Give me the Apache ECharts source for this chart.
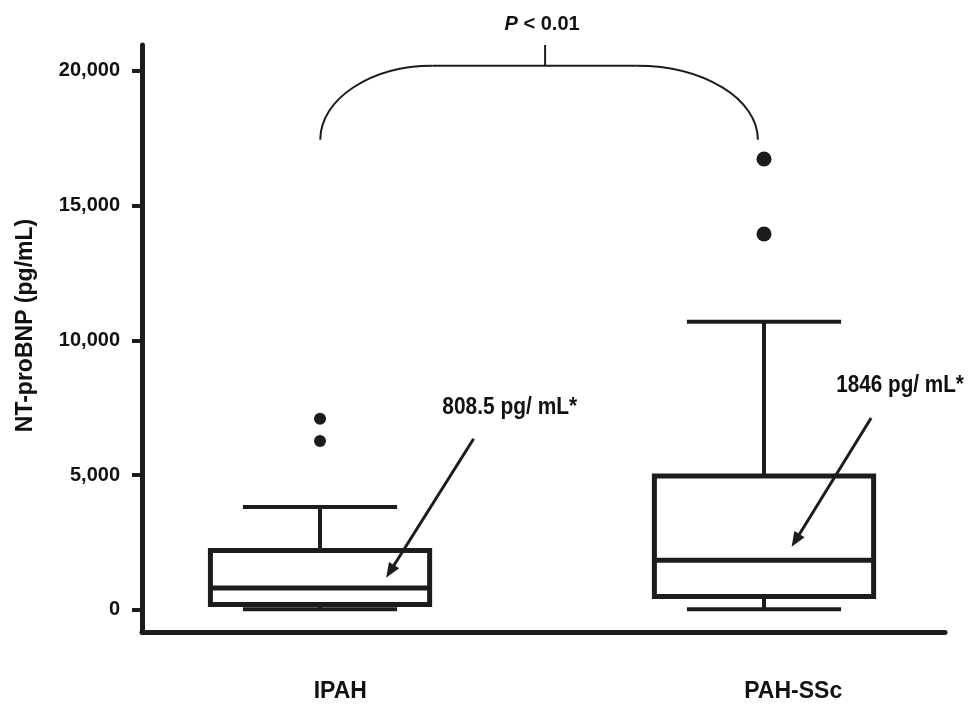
<!DOCTYPE html>
<html>
<head>
<meta charset="utf-8">
<script src="https://cdn.jsdelivr.net/npm/echarts@6/dist/echarts.min.js"></script>
<style>
html,body{margin:0;padding:0;background:#fff;}
#chart{width:974px;height:713px;}
</style>
</head>
<body>
<div id="chart"></div>
<script>
// ---- data ----
var categories = ['IPAH', 'PAH-SSc'];
var boxMin    = [20, 20];
var boxQ1     = [200, 500];
var boxMedian = [808.5, 1846];
var boxQ3     = [2200, 4970];
var boxMax    = [3820, 10690];
var outliersIPAH = [7090, 6270];
var outliersPAH  = [16730, 13950];
var yTicks = [0, 5000, 10000, 15000, 20000];
var medianLabels = ['808.5 pg/ mL*', '1846 pg/ mL*'];
var pText = 'P';
var pRest = ' < 0.01';
var yTitle = 'NT-proBNP (pg/mL)';

// ---- layout (x axis units 0..100) ----
var boxPos = [22.17, 77.46];
var labelPos = [24.7, 81.1];
var BOX_W = 27.3, CAP_W = 19.2;
var INK = '#1c1c1c';
var FONT = "'Liberation Sans', Arial, sans-serif";

var chart = echarts.init(document.getElementById('chart'));

var boxData = categories.map(function (c, i) {
  return [boxPos[i], boxMin[i], boxQ1[i], boxMedian[i], boxQ3[i], boxMax[i]];
});
var outData = outliersIPAH.map(function (v) { return {value: [boxPos[0], v], symbolSize: 12}; })
  .concat(outliersPAH.map(function (v) { return {value: [boxPos[1], v], symbolSize: 15}; }));

var option = {
  animation: false,
  backgroundColor: '#fff',
  grid: {left: 142, right: 29, top: 45, bottom: 81},
  xAxis: {
    type: 'value', min: 0, max: 100,
    splitLine: {show: false},
    axisTick: {show: false},
    axisLine: {show: true, onZero: false, lineStyle: {color: INK, width: 5}},
    axisLabel: {
      customValues: labelPos,
      margin: 48,
      fontFamily: FONT, fontWeight: 'bold', fontSize: 23, color: '#111',
      formatter: function (v) {
        var idx = labelPos.indexOf(v);
        return idx >= 0 ? categories[idx] : '';
      }
    }
  },
  yAxis: {
    type: 'value', min: -820, max: 20960,
    splitLine: {show: false},
    axisLine: {show: true, onZero: false, lineStyle: {color: INK, width: 5}},
    axisTick: {show: true, customValues: yTicks, length: 10, lineStyle: {color: INK, width: 4}},
    axisLabel: {
      customValues: yTicks, margin: 22,
      fontFamily: FONT, fontWeight: 'bold', fontSize: 20, color: '#111',
      formatter: function (v) { return String(v).replace(/\B(?=(\d{3})+(?!\d))/g, ','); }
    },
    name: yTitle,
    nameLocation: 'middle',
    nameGap: 105,
    nameTextStyle: {fontFamily: FONT, fontWeight: 'bold', fontSize: 23, color: '#111', padding: [0, 0, 0, 26]}
  },
  series: [
    {
      type: 'custom',
      data: boxData,
      encode: {x: 0, y: [1, 2, 3, 4, 5]},
      renderItem: function (params, api) {
        var x = api.value(0);
        var lo = api.coord([x, api.value(1)]);
        var q1 = api.coord([x, api.value(2)]);
        var md = api.coord([x, api.value(3)]);
        var q3 = api.coord([x, api.value(4)]);
        var hi = api.coord([x, api.value(5)]);
        var bw = api.size([BOX_W, 0])[0];
        var cw = api.size([CAP_W, 0])[0];
        var cx = lo[0];
        var ls = {stroke: INK, lineWidth: 4};
        return {
          type: 'group',
          children: [
            {type: 'line', shape: {x1: cx, y1: hi[1], x2: cx, y2: q3[1]}, style: ls},
            {type: 'line', shape: {x1: cx, y1: q1[1], x2: cx, y2: lo[1]}, style: ls},
            {type: 'line', shape: {x1: cx - cw / 2, y1: hi[1], x2: cx + cw / 2, y2: hi[1]}, style: ls},
            {type: 'line', shape: {x1: cx - cw / 2, y1: lo[1], x2: cx + cw / 2, y2: lo[1]}, style: ls},
            {type: 'rect', shape: {x: cx - bw / 2, y: q3[1], width: bw, height: q1[1] - q3[1]},
              style: {fill: '#fff', stroke: INK, lineWidth: 5}},
            {type: 'line', shape: {x1: cx - bw / 2, y1: md[1], x2: cx + bw / 2 + 2, y2: md[1]},
              style: {stroke: INK, lineWidth: 5}}
          ]
        };
      },
      z: 2
    },
    {
      type: 'scatter',
      data: outData,
      itemStyle: {color: INK, opacity: 1},
      z: 3
    }
  ]
};
chart.setOption(option);

// ---- annotations anchored in data space ----
function P(x, v) { return chart.convertToPixel({gridIndex: 0}, [x, v]); }
var K = 0.5523;
var L = P(22.2, 17440), LJ = P(36.2, 20190), RJ = P(61.6, 20190), R = P(76.7, 17440);
var T0 = P(50.2, 20190), T1 = P(50.2, 20960);
var bs = {stroke: INK, lineWidth: 2, fill: null};

function arrow(a, b) {
  var dx = b[0] - a[0], dy = b[1] - a[1], len = Math.sqrt(dx * dx + dy * dy);
  var ux = dx / len, uy = dy / len, hl = 15, hw = 6;
  var bx = b[0] - ux * hl, by = b[1] - uy * hl;
  return [
    {type: 'line', z: 100, shape: {x1: a[0], y1: a[1], x2: bx + ux * 2, y2: by + uy * 2}, style: {stroke: INK, lineWidth: 3}},
    {type: 'polygon', z: 100, shape: {points: [[b[0], b[1]], [bx - uy * hw, by + ux * hw], [bx + uy * hw, by - ux * hw]]}, style: {fill: INK}}
  ];
}

var a1s = P(41.3, 6350), a1e = P(30.4, 1190);
var a2s = P(90.8, 7120), a2e = P(80.9, 2340);
var t1 = P(45.8, 7500), t2 = P(94.4, 8310);

var elements = [
  {type: 'bezierCurve', z: 100, shape: {x1: L[0], y1: L[1], cpx1: L[0], cpy1: L[1] - K * (L[1] - LJ[1]),
    cpx2: LJ[0] - K * (LJ[0] - L[0]), cpy2: LJ[1], x2: LJ[0], y2: LJ[1]}, style: bs},
  {type: 'line', z: 100, shape: {x1: LJ[0], y1: LJ[1], x2: RJ[0], y2: RJ[1]}, style: bs},
  {type: 'bezierCurve', z: 100, shape: {x1: RJ[0], y1: RJ[1], cpx1: RJ[0] + K * (R[0] - RJ[0]), cpy1: RJ[1],
    cpx2: R[0], cpy2: R[1] - K * (R[1] - RJ[1]), x2: R[0], y2: R[1]}, style: bs},
  {type: 'line', z: 100, shape: {x1: T0[0], y1: T0[1], x2: T1[0], y2: T1[1]}, style: bs},
  {type: 'text', z: 100, x: T1[0] - 3, y: T1[1] - 21,
    style: {text: '{i|' + pText + '}{n|' + pRest + '}', align: 'center', verticalAlign: 'middle',
      rich: {
        i: {fontFamily: FONT, fontWeight: 'bold', fontStyle: 'italic', fontSize: 20, fill: '#111'},
        n: {fontFamily: FONT, fontWeight: 'bold', fontSize: 20, fill: '#111'}
      }}},
  {type: 'text', z: 100, x: t1[0], y: t1[1], scaleX: 0.91,
    style: {text: medianLabels[0], align: 'center', verticalAlign: 'middle',
      font: 'bold 23px ' + FONT, fill: '#111'}},
  {type: 'text', z: 100, x: t2[0], y: t2[1], scaleX: 0.9,
    style: {text: medianLabels[1], align: 'center', verticalAlign: 'middle',
      font: 'bold 23px ' + FONT, fill: '#111'}}
].concat(arrow(a1s, a1e)).concat(arrow(a2s, a2e));

chart.setOption({graphic: {elements: elements}});
</script>
</body>
</html>
